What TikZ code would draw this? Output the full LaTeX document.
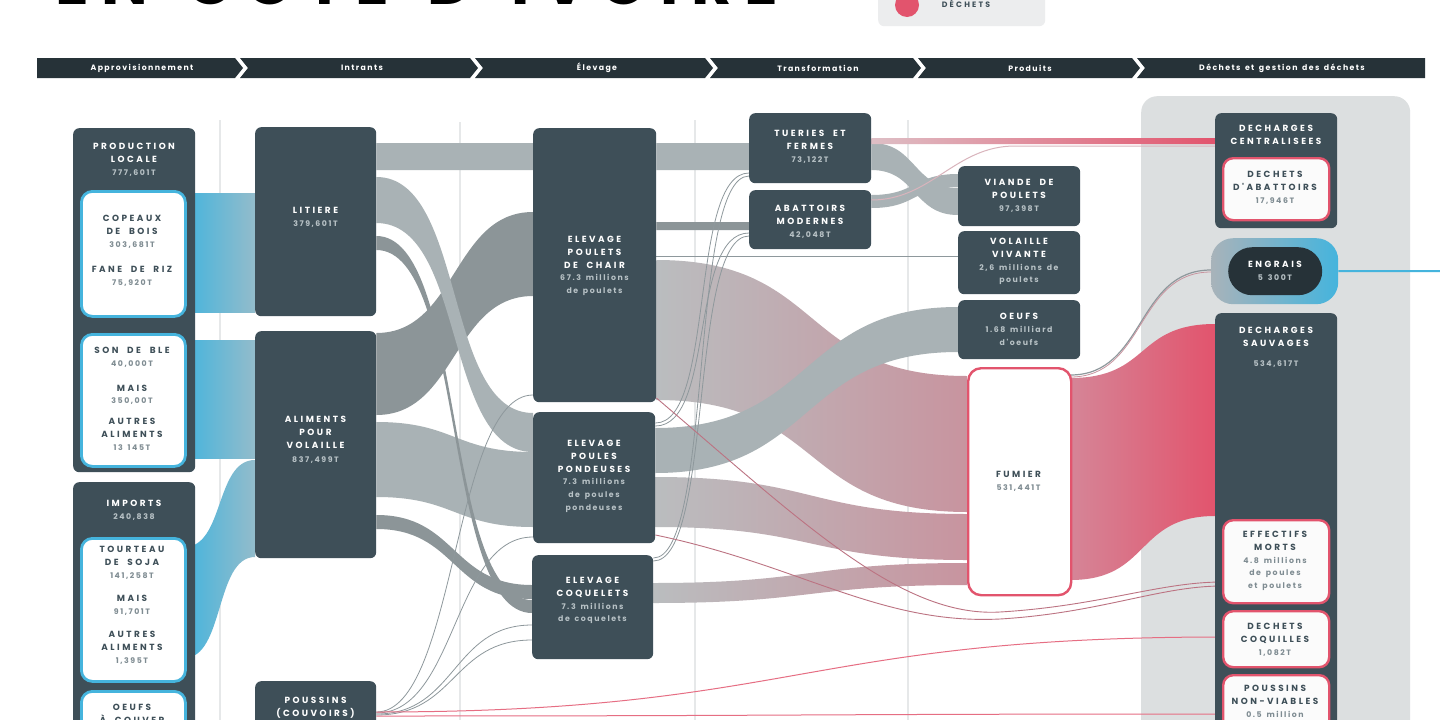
\documentclass[tikz,border=0pt]{standalone}
\usepackage{fontspec}
\setmainfont{Poppins}
\newfontfamily\lblf[LetterSpace=28,WordSpace=2.0]{Poppins}
\newfontfamily\valf[LetterSpace=20,WordSpace=1.6]{Poppins}
\newfontfamily\hdrf[LetterSpace=18,WordSpace=1.5]{Poppins}
\newfontfamily\titf[LetterSpace=20,WordSpace=1.5]{Poppins}
\usetikzlibrary{calc}
\definecolor{boxc}{HTML}{3E4F58}
\definecolor{hdrc}{HTML}{263238}
\definecolor{flowl}{HTML}{A9B2B5}
\definecolor{flowd}{HTML}{8C9598}
\definecolor{flowg}{HTML}{BABDBF}
\definecolor{bluec}{HTML}{45B4DD}
\definecolor{blues}{HTML}{93BCCB}
\definecolor{redc}{HTML}{E2546D}
\definecolor{pinkc}{HTML}{C8949F}
\definecolor{pinkf}{HTML}{D58597}
\definecolor{panelc}{HTML}{DCDFE0}
\definecolor{guidec}{HTML}{E6E8E9}
\definecolor{valc}{HTML}{B8C2C6}
\definecolor{valw}{HTML}{7F8C92}
\definecolor{legc}{HTML}{ECEDEE}
\definecolor{engc}{HTML}{A8B3BA}
\definecolor{engd}{HTML}{263238}
\definecolor{thinc}{HTML}{8E989C}
\newcommand\xv[1]{{\valf\fontsize{7.8}{12.8}\selectfont\color{valc}#1}}
\newcommand\xw[1]{{\valf\fontsize{7.8}{12.8}\selectfont\color{valw}#1}}
% band: style, src anchor, src top, src bottom, dst anchor, dst top, dst bottom, control distance
\newcommand\band[8]{\path[#1] ([yshift=-#3pt]#2) .. controls +(#8,0) and +(-#8,0) .. ([yshift=-#6pt]#5) -- ([yshift=-#7pt]#5) .. controls +(-#8,0) and +(#8,0) .. ([yshift=-#4pt]#2) -- cycle;}
% thin connector: style, src anchor, src off, dst anchor, dst off, control distance
\newcommand\conn[6]{\draw[#1] ([yshift=-#3pt]#2) .. controls +(#6,0) and +(-#6,0) .. ([yshift=-#5pt]#4);}
\begin{document}
\begin{tikzpicture}[x=1pt,y=-1pt,
  dbox/.style={fill=boxc, rounded corners=6pt, inner sep=0pt, anchor=north west},
  wbox/.style={fill=white, draw=bluec, line width=2.8pt, rounded corners=11pt, inner sep=0pt, anchor=north west},
  rbox/.style={fill=white!97!gray, draw=redc, line width=2.4pt, rounded corners=10pt, inner sep=0pt, anchor=north west},
  tl/.style={anchor=north, align=center, inner sep=0pt, text=white, font=\lblf\bfseries\fontsize{8.9}{12.8}\selectfont},
  tld/.style={tl, text=boxc},
  hdr/.style={text=white, inner sep=0pt, font=\hdrf\bfseries\fontsize{7.8}{9}\selectfont},
  guide/.style={draw=guidec, line width=1.5pt},
  thin/.style={draw=thinc, line width=0.8pt},
  redthin/.style={draw=redc!85!white, line width=1pt},
  mixthin/.style={draw=redc!55!thinc, line width=0.9pt}]
\path[use as bounding box] (0,0) rectangle (1440,720);
\fill[white] (0,0) rectangle (1440,720);

% title and legend
\node[anchor=base west, inner sep=0pt, font=\titf\bfseries\fontsize{62}{62}\selectfont] (title) at (55,5) {EN CÔTE D'IVOIRE};
\node[anchor=north west, fill=legc, rounded corners=6pt, minimum width=167pt, minimum height=50pt, inner sep=0pt] (legend) at (878,-24) {};
\node[circle, fill=redc, minimum size=24pt, inner sep=0pt] (legdot) at (907,5) {};
\node[text=boxc, inner sep=0pt, font=\lblf\bfseries\fontsize{7.8}{8}\selectfont] (legtxt) at (966,4) {DÉCHETS};

% header bar
\fill[hdrc] (37,58) -- (235,58) -- (243,68) -- (235,78) -- (37,78) -- cycle;
\fill[hdrc] (240,58) -- (470,58) -- (478,68) -- (470,78) -- (240,78) -- (248,68) -- cycle;
\fill[hdrc] (475,58) -- (705,58) -- (713,68) -- (705,78) -- (475,78) -- (483,68) -- cycle;
\fill[hdrc] (710,58) -- (913,58) -- (921,68) -- (913,78) -- (710,78) -- (718,68) -- cycle;
\fill[hdrc] (918,58) -- (1132,58) -- (1140,68) -- (1132,78) -- (918,78) -- (926,68) -- cycle;
\fill[hdrc] (1137,58) -- (1425,58) -- (1425,78) -- (1137,78) -- (1145,68) -- cycle;
\node[hdr] (h1) at (142,68) {Approvisionnement};
\node[hdr] (h2) at (362,68) {Intrants};
\node[hdr] (h3) at (597,68) {Élevage};
\node[hdr] (h4) at (818,68) {Transformation};
\node[hdr] (h5) at (1030,68) {Produits};
\node[hdr] (h6) at (1282,68) {Déchets et gestion des déchets};

% guide lines
\draw[guide] (220,120) -- (220,720);
\draw[guide] (460,122) -- (460,720);
\draw[guide] (695,120) -- (695,720);
\draw[guide] (908,120) -- (908,720);

% right panel
\node[anchor=north west, fill=panelc, rounded corners=16pt, minimum width=269pt, minimum height=680pt, inner sep=0pt] (panel) at (1141,96) {};

% anchor frames of the boxes (the filled boxes are drawn on top later)
\path (80,190) node[anchor=north west, minimum width=104pt, minimum height=125pt, inner sep=0pt] (copeaux) {};
\path (80,333) node[anchor=north west, minimum width=104pt, minimum height=132pt, inner sep=0pt] (son) {};
\path (80,537) node[anchor=north west, minimum width=104pt, minimum height=143pt, inner sep=0pt] (tourteau) {};
\path (255,127) node[anchor=north west, minimum width=121pt, minimum height=189pt, inner sep=0pt] (litiere) {};
\path (255,331) node[anchor=north west, minimum width=121pt, minimum height=227pt, inner sep=0pt] (aliments) {};
\path (255,681) node[anchor=north west, minimum width=121pt, minimum height=60pt, inner sep=0pt] (poussins) {};
\path (533,128) node[anchor=north west, minimum width=123pt, minimum height=274pt, inner sep=0pt] (chair) {};
\path (533,412) node[anchor=north west, minimum width=122pt, minimum height=131pt, inner sep=0pt] (pondeuses) {};
\path (532,555) node[anchor=north west, minimum width=121pt, minimum height=104pt, inner sep=0pt] (coquelets) {};
\path (749,113) node[anchor=north west, minimum width=122pt, minimum height=70pt, inner sep=0pt] (tueries) {};
\path (749,190) node[anchor=north west, minimum width=122pt, minimum height=59pt, inner sep=0pt] (abattoirs) {};
\path (958,166) node[anchor=north west, minimum width=122pt, minimum height=60pt, inner sep=0pt] (viande) {};
\path (958,231) node[anchor=north west, minimum width=122pt, minimum height=63pt, inner sep=0pt] (vivante) {};
\path (958,300) node[anchor=north west, minimum width=122pt, minimum height=59pt, inner sep=0pt] (oeufsp) {};
\path (967,367) node[anchor=north west, minimum width=103pt, minimum height=227pt, inner sep=0pt] (fumier) {};
\path (1215,113) node[anchor=north west, minimum width=122pt, minimum height=115pt, inner sep=0pt] (centr) {};
\path (1215,313) node[anchor=north west, minimum width=122pt, minimum height=420pt, inner sep=0pt] (sauv) {};
\path (1222,519) node[anchor=north west, minimum width=106pt, minimum height=83pt, inner sep=0pt] (morts) {};
\path (1222,610) node[anchor=north west, minimum width=106pt, minimum height=56pt, inner sep=0pt] (coq) {};
\path (1222,674) node[anchor=north west, minimum width=106pt, minimum height=60pt, inner sep=0pt] (nonv) {};
\path (1211,238) node[anchor=north west, minimum width=127pt, minimum height=66pt, inner sep=0pt] (engO) {};
\coordinate (bluend) at (1440,271);

% blue supply flows
\band{left color=bluec, right color=blues}{copeaux.north east}{3}{122}{litiere.north west}{66}{185}{35}
\band{left color=bluec, right color=blues}{son.north east}{7}{125}{aliments.north west}{9}{127}{35}
\band{left color=bluec, right color=blues}{tourteau.north east}{10}{121}{aliments.north west}{129}{226}{40}

% inputs to farming
\band{fill=flowl}{litiere.north east}{16}{43}{chair.north west}{15}{42}{78}
\band{fill=flowd}{aliments.north east}{2}{84}{chair.north west}{84}{168}{80}
\band{fill=flowl}{aliments.north east}{91}{166}{pondeuses.north west}{40}{115}{78}
\band{fill=flowl}{litiere.north east}{50}{96}{pondeuses.north west}{1}{40}{90}
\band{fill=flowd}{aliments.north east}{184}{198}{coquelets.north west}{30}{44}{80}
\band{fill=flowd}{litiere.north east}{109}{123}{coquelets.north west}{45}{58}{90}

% chicks
\conn{thin}{poussins.north east}{31}{chair.north west}{267}{80}
\conn{thin}{poussins.north east}{32}{pondeuses.north west}{125}{80}
\conn{thin}{poussins.north east}{33}{coquelets.north west}{70}{80}
\conn{thin}{poussins.north east}{34}{coquelets.north west}{85}{80}
\conn{redthin}{poussins.north east}{31}{coq.north west}{27}{420}
\conn{redthin}{poussins.north east}{35}{nonv.north west}{40}{420}

% farming outputs
\band{fill=flowl}{chair.north east}{15}{42}{tueries.north west}{30}{57}{46}
\band{fill=flowd}{chair.north east}{94}{102}{abattoirs.north west}{32}{40}{46}
\conn{draw=thinc, line width=1pt}{chair.north east}{128}{vivante.north west}{25}{150}
\band{left color=flowg, right color=pinkc}{chair.north east}{132}{272}{fumier.north west}{9}{145}{170}
\band{left color=flowg, right color=pinkc}{pondeuses.north east}{65}{115}{fumier.north west}{147}{193}{160}
\band{left color=flowg, right color=pinkc}{coquelets.north east}{28}{48}{fumier.north west}{196}{218}{160}
\band{fill=flowl}{pondeuses.north east}{16}{61}{oeufsp.north west}{7}{52}{160}

% thin lines up to slaughter
\conn{thin}{pondeuses.north east}{11}{tueries.north west}{60}{60}
\conn{thin}{pondeuses.north east}{14}{abattoirs.north west}{43}{60}
\conn{thin}{coquelets.north east}{3}{tueries.north west}{63}{60}
\conn{thin}{coquelets.north east}{6}{abattoirs.north west}{46}{60}

% dead animals
\draw[mixthin] ([yshift=-270pt]chair.north east) .. controls (800,520) and (900,618) .. (1000,612) .. controls (1100,606) and (1160,582) .. ([yshift=-63pt]morts.north west);
\draw[mixthin] ([yshift=-123pt]pondeuses.north east) .. controls (800,565) and (880,625) .. (1000,619) .. controls (1100,613) and (1160,586) .. ([yshift=-67pt]morts.north west);

% slaughter outputs
\band{fill=flowl}{abattoirs.north east}{5}{18}{viande.north west}{8}{21}{45}
\band{fill=flowl}{tueries.north east}{30}{57}{viande.north west}{22}{49}{45}
\band{left color=pinkc!60!white, right color=redc}{tueries.north east}{25}{31}{centr.north west}{25}{31}{170}
\draw[draw=pinkc!70!white, line width=1pt] ([yshift=-10pt]abattoirs.north east) .. controls +(60,0) and +(-60,0) .. ([xshift=-200pt,yshift=-33pt]centr.north west) -- ([yshift=-33pt]centr.north west);

% manure
\band{left color=pinkf, right color=redc}{fumier.north east}{11}{213}{sauv.north west}{11}{203}{80}
\conn{draw=thinc, line width=1.2pt}{fumier.north east}{8}{engO.north west}{32}{75}
\conn{draw=pinkc, line width=0.8pt}{fumier.north east}{10}{engO.north west}{34}{75}
\draw[draw=bluec, line width=2pt] (engO.east) -- (bluend);

% boxes drawn on top
\node[dbox, minimum width=122pt, minimum height=344pt] (prod) at (73,128) {};
\node[dbox, minimum width=122pt, minimum height=260pt] (imports) at (73,482) {};
\node[wbox, minimum width=104pt, minimum height=125pt] (copeauxB) at (80,190) {};
\node[wbox, minimum width=104pt, minimum height=132pt] (sonB) at (80,333) {};
\node[wbox, minimum width=104pt, minimum height=143pt] (tourteauB) at (80,537) {};
\node[wbox, minimum width=104pt, minimum height=60pt] (oeufsc) at (80,690) {};
\node[dbox, minimum width=121pt, minimum height=189pt] (litiereB) at (255,127) {};
\node[dbox, minimum width=121pt, minimum height=227pt] (alimentsB) at (255,331) {};
\node[dbox, minimum width=121pt, minimum height=60pt] (poussinsB) at (255,681) {};
\node[dbox, minimum width=123pt, minimum height=274pt] (chairB) at (533,128) {};
\node[dbox, minimum width=122pt, minimum height=131pt] (pondeusesB) at (533,412) {};
\node[dbox, minimum width=121pt, minimum height=104pt] (coqueletsB) at (532,555) {};
\node[dbox, minimum width=122pt, minimum height=70pt] (tueriesB) at (749,113) {};
\node[dbox, minimum width=122pt, minimum height=59pt] (abattoirsB) at (749,190) {};
\node[dbox, minimum width=122pt, minimum height=60pt] (viandeB) at (958,166) {};
\node[dbox, minimum width=122pt, minimum height=63pt] (vivanteB) at (958,231) {};
\node[dbox, minimum width=122pt, minimum height=59pt] (oeufspB) at (958,300) {};
\node[rbox, fill=white, rounded corners=13pt, minimum width=103pt, minimum height=227pt] (fumierB) at (967,367) {};
\node[dbox, minimum width=122pt, minimum height=115pt] (centrB) at (1215,113) {};
\node[rbox, minimum width=106pt, minimum height=62pt] (dabatt) at (1222,157) {};
\node[anchor=north west, left color=engc, middle color=engc!70!bluec, right color=bluec, rounded corners=22pt, minimum width=127pt, minimum height=66pt, inner sep=0pt] (engOB) at (1211,238) {};
\node[anchor=north west, fill=engd, rounded corners=24pt, minimum width=94pt, minimum height=48pt, inner sep=0pt] (engI) at (1228,247) {};
\node[dbox, minimum width=122pt, minimum height=420pt] (sauvB) at (1215,313) {};
\node[rbox, minimum width=106pt, minimum height=83pt] (mortsB) at (1222,519) {};
\node[rbox, minimum width=106pt, minimum height=56pt] (coqB) at (1222,610) {};
\node[rbox, minimum width=106pt, minimum height=60pt] (nonvB) at (1222,674) {};

% texts
\node[tl] (prod-t) at (134,143) {PRODUCTION\\LOCALE\\\xv{777,601T}};
\node[tld] (cop-t) at (132,215) {COPEAUX\\DE BOIS\\\xw{303,681T}\\[13pt]FANE DE RIZ\\\xw{75,920T}};
\node[tld] (son-t) at (132,347) {SON DE BLE\\\xw{40,000T}\\[12pt]MAIS\\\xw{350,00T}\\[8pt]AUTRES\\ALIMENTS\\\xw{13 145T}};
\node[tl] (imp-t) at (134,500) {IMPORTS\\\xv{240,838}};
\node[tld] (tour-t) at (132,546) {TOURTEAU\\DE SOJA\\\xw{141,258T}\\[11pt]MAIS\\\xw{91,701T}\\[10pt]AUTRES\\ALIMENTS\\\xw{1,395T}};
\node[tld] (oeu-t) at (132,704) {OEUFS\\À COUVER};
\node[tl] (lit-t) at (315.5,207) {LITIERE\\\xv{379,601T}};
\node[tl] (ali-t) at (315.5,416) {ALIMENTS\\POUR\\VOLAILLE\\[2pt]\xv{837,499T}};
\node[tl] (pou-t) at (315.5,697) {POUSSINS\\(COUVOIRS)};
\node[tl] (chair-t) at (594.5,236) {ELEVAGE\\POULETS\\DE CHAIR\\\xv{67.3 millions}\\\xv{de poulets}};
\node[tl] (pond-t) at (594,440) {ELEVAGE\\POULES\\PONDEUSES\\\xv{7.3 millions}\\\xv{de poules}\\\xv{pondeuses}};
\node[tl] (coq-t) at (592.5,577) {ELEVAGE\\COQUELETS\\\xv{7.3 millions}\\\xv{de coquelets}};
\node[tl] (tue-t) at (810,130) {TUERIES ET\\FERMES\\\xv{73,122T}};
\node[tl] (aba-t) at (810,205) {ABATTOIRS\\MODERNES\\\xv{42,048T}};
\node[tl] (via-t) at (1019,179) {VIANDE DE\\POULETS\\\xv{97,398T}};
\node[tl] (viv-t) at (1019,238) {VOLAILLE\\VIVANTE\\\xv{2,6 millions de}\\\xv{poulets}};
\node[tl] (oep-t) at (1019,313) {OEUFS\\\xv{1.68 milliard}\\\xv{d'oeufs}};
\node[tld] (fum-t) at (1018.5,471) {FUMIER\\\xw{531,441T}};
\node[tl] (cen-t) at (1276,125) {DECHARGES\\CENTRALISEES};
\node[tld] (dab-t) at (1275,171) {DECHETS\\D'ABATTOIRS\\\xw{17,946T}};
\node[tl] (eng-t) at (1275,261) {ENGRAIS\\\xv{5 300T}};
\node[tl] (sau-t) at (1276,327) {DECHARGES\\SAUVAGES\\[7pt]\xv{534,617T}};
\node[tld] (mor-t) at (1275,531) {EFFECTIFS\\MORTS\\\xw{4.8 millions}\\\xw{de poules}\\\xw{et poulets}};
\node[tld] (cq-t) at (1275,623) {DECHETS\\COQUILLES\\\xw{1,082T}};
\node[tld] (nv-t) at (1275,685) {POUSSINS\\NON-VIABLES\\\xw{0.5 million}};
\end{tikzpicture}
\end{document}
